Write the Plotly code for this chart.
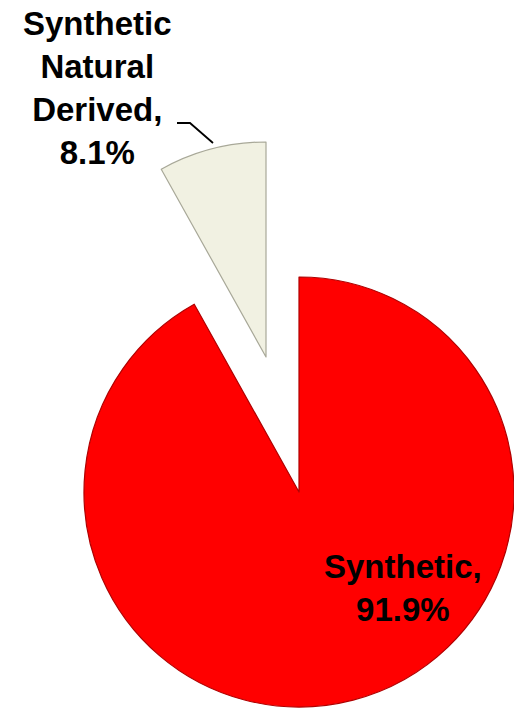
import plotly.graph_objects as go

# ---- data ----
labels = ["Synthetic", "Synthetic Natural Derived"]
values = [91.9, 8.1]
colors = ["#FF0000", "#F1F1E2"]
line_colors = ["#B00000", "#A8A898"]

W, H = 514, 714

def px_domain(cx, cy, r):
    return dict(x=[(cx - r) / W, (cx + r) / W],
                y=[(H - (cy + r)) / H, (H - (cy - r)) / H])

R = 215
main_center = (299, 492)
pulled_center = (266, 357)

fig = go.Figure()

# main (red) slice
fig.add_trace(go.Pie(
    labels=labels, values=values, sort=False, direction="clockwise", rotation=0,
    marker=dict(colors=[colors[0], "rgba(0,0,0,0)"],
                line=dict(color=[line_colors[0], "rgba(0,0,0,0)"], width=[1.2, 0])),
    textinfo="none", hoverinfo="label+percent",
    domain=px_domain(*main_center, R), showlegend=False,
))
# pulled-out slice
fig.add_trace(go.Pie(
    labels=labels, values=values, sort=False, direction="clockwise", rotation=0,
    marker=dict(colors=["rgba(0,0,0,0)", colors[1]],
                line=dict(color=["rgba(0,0,0,0)", line_colors[1]], width=[0, 1.2])),
    textinfo="none", hoverinfo="label+percent",
    domain=px_domain(*pulled_center, R), showlegend=False,
))

font = dict(family="Liberation Sans, Arial, sans-serif", size=33, color="#000000")

def label_text(i):
    name = labels[i] if i == 0 else labels[i].replace(" ", "<br>")
    return f"<b>{name},<br>{values[i]}%</b>"

fig.add_annotation(text=label_text(1), x=97 / W, y=(H - 88) / H, xref="paper", yref="paper",
                   xanchor="center", yanchor="middle", showarrow=False, font=font, align="center")
fig.add_annotation(text=label_text(0), x=403 / W, y=(H - 588) / H, xref="paper", yref="paper",
                   xanchor="center", yanchor="middle", showarrow=False, font=font, align="center")

# leader line
def p(x, y):
    return f"{x / W} {(H - y) / H}"
fig.add_shape(type="path", xref="paper", yref="paper",
              path=f"M {p(177, 123)} L {p(190, 123)} L {p(213, 143)}",
              line=dict(color="#000000", width=1.8))

fig.update_layout(width=W, height=H, margin=dict(l=0, r=0, t=0, b=0),
                  paper_bgcolor="white", plot_bgcolor="white", showlegend=False)

fig.write_html("out.html")
